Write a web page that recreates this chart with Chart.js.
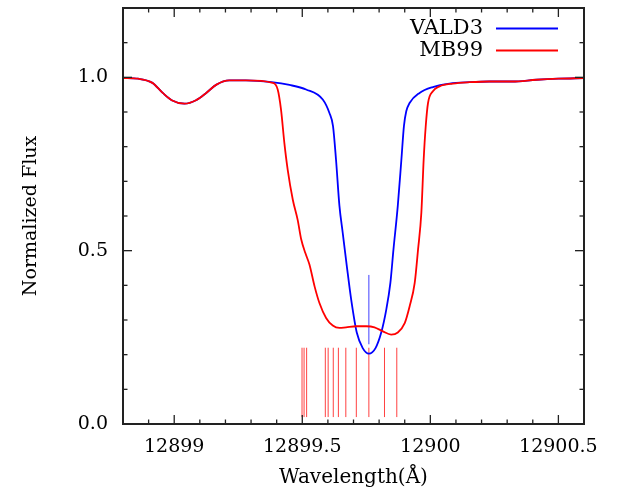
<!DOCTYPE html>
<html>
<head>
<meta charset="utf-8">
<script src="https://cdn.jsdelivr.net/npm/chart.js@4.4.1/dist/chart.umd.min.js"></script>
<style>
    html, body { margin: 0; padding: 0; background: #fff; }
    #wrap { width: 618px; height: 490px; }
</style>
</head>
<body>
<div id="wrap"><canvas id="flux-chart"></canvas></div>
<script>
// VALD3 synthetic profile (wavelength in Å, normalized flux)
const wavelengthVald = [12898.80, 12898.86, 12898.915, 12898.955, 12898.99, 12899.04, 12899.085, 12899.125, 12899.165, 12899.215,
    12899.28, 12899.38, 12899.45, 12899.515, 12899.58, 12899.606, 12899.62, 12899.632, 12899.645, 12899.658,
    12899.674, 12899.691, 12899.713, 12899.736, 12899.76, 12899.786, 12899.808, 12899.828, 12899.844, 12899.856,
    12899.873, 12899.887, 12899.897, 12899.906, 12899.919, 12899.958, 12900.01, 12900.075, 12900.154, 12900.23,
    12900.32, 12900.415, 12900.5, 12900.6];
const fluxVald = [0.998, 0.996, 0.984, 0.955, 0.934, 0.924, 0.934, 0.955, 0.979, 0.991,
    0.991, 0.986, 0.978, 0.965, 0.936, 0.897, 0.859, 0.76, 0.63, 0.551,
    0.455, 0.359, 0.263, 0.219, 0.203, 0.219, 0.263, 0.33, 0.407, 0.503,
    0.63, 0.763, 0.86, 0.902, 0.926, 0.955, 0.972, 0.982, 0.986, 0.988,
    0.988, 0.993, 0.996, 0.998];

// MB99 synthetic profile
const wavelengthMb = [12898.80, 12898.86, 12898.915, 12898.955, 12898.99, 12899.04, 12899.085, 12899.125, 12899.165, 12899.215,
    12899.28, 12899.384, 12899.404, 12899.417, 12899.43, 12899.443, 12899.463, 12899.482, 12899.496, 12899.512,
    12899.528, 12899.548, 12899.567, 12899.593, 12899.619, 12899.645, 12899.671, 12899.711, 12899.75, 12899.782,
    12899.815, 12899.847, 12899.873, 12899.90, 12899.919, 12899.939, 12899.952, 12899.965, 12899.974, 12899.982,
    12899.991, 12900.01, 12900.036, 12900.088, 12900.154, 12900.23, 12900.32, 12900.415, 12900.5, 12900.6];
const fluxMb = [0.998, 0.996, 0.984, 0.955, 0.934, 0.924, 0.934, 0.955, 0.979, 0.991,
    0.991, 0.984, 0.965, 0.907, 0.811, 0.734, 0.647, 0.589, 0.532, 0.493,
    0.46, 0.397, 0.349, 0.306, 0.284, 0.277, 0.279, 0.282, 0.282, 0.279,
    0.267, 0.258, 0.264, 0.291, 0.339, 0.407, 0.503, 0.61, 0.763, 0.859,
    0.926, 0.96, 0.974, 0.982, 0.986, 0.988, 0.988, 0.993, 0.996, 0.998];

// line positions of each list, drawn as short vertical markers
const mbLineCenters = [12899.499, 12899.507, 12899.517, 12899.590, 12899.601, 12899.621,
    12899.641, 12899.670, 12899.711, 12899.760, 12899.821, 12899.869];
const mbLineSpan = [0.02, 0.22];
const valdLineCenters = [12899.76];
const valdLineSpan = [0.23, 0.43];

const xTickLabels = ['12899', '12899.5', '12900', '12900.5'];
const yTickLabels = ['0.0', '0.5', '1.0'];

const toPoints = (xs, ys) => xs.map((x, i) => ({ x, y: ys[i] }));
const pickLabel = (labels, value) => labels.find((l) => Math.abs(Number(l) - value) < 1e-6) || '';

// ticks every 0.1 between the axis limits, built from integer tenths so the values stay exact
function tenthTicks(scale) {
    const ticks = [];
    for (let k = Math.round(scale.min * 10); k <= Math.round(scale.max * 10); k++) ticks.push({ value: k / 10 });
    scale.ticks = ticks;
}

function markerDatasets(centers, span, color) {
    return centers.map((c) => ({
        data: [{ x: c, y: span[0] }, { x: c, y: span[1] }],
        borderColor: color,
        borderWidth: 1,
        pointRadius: 0,
        showLine: true,
        order: 3
    }));
}

/**
 * Frame, inward ticks on all four sides and a gnuplot-style legend.
 */
const frameAndLegend = {
    id: 'frameAndLegend',
    afterDraw(chart) {
        const { ctx, chartArea: a, scales: { x, y } } = chart;
        ctx.save();
        ctx.strokeStyle = '#222';
        ctx.lineWidth = 1.3;
        const seg = (x1, y1, x2, y2) => { ctx.beginPath(); ctx.moveTo(x1, y1); ctx.lineTo(x2, y2); ctx.stroke(); };

        x.ticks.forEach((t) => {
            const px = x.getPixelForValue(t.value);
            if (px <= a.left + 1 || px >= a.right - 1) return;
            const len = pickLabel(xTickLabels, t.value) ? 9 : 4.5;
            seg(px, a.bottom, px, a.bottom - len);
            seg(px, a.top, px, a.top + len);
        });
        y.ticks.forEach((t) => {
            const py = y.getPixelForValue(t.value);
            if (py <= a.top + 1 || py >= a.bottom - 1) return;
            const len = pickLabel(yTickLabels, t.value) ? 9 : 4.5;
            seg(a.left, py, a.left + len, py);
            seg(a.right, py, a.right - len, py);
        });

        ctx.lineWidth = 2;
        ctx.strokeRect(a.left, a.top, a.right - a.left, a.bottom - a.top);

        ctx.font = '21px "DejaVu Serif"';
        ctx.textAlign = 'right';
        ctx.textBaseline = 'middle';
        ctx.fillStyle = '#000';
        chart.data.datasets.filter((d) => d.label).forEach((d, i) => {
            const yMid = a.top + 20.5 + i * 22;
            ctx.fillText(d.label, a.right - 101, yMid);
            ctx.strokeStyle = d.borderColor;
            ctx.lineWidth = 1.8;
            seg(a.right - 88, yMid, a.right - 26, yMid);
        });
        ctx.restore();
    }
};

const serif = '"DejaVu Serif", serif';

new Chart(document.getElementById('flux-chart'), {
    type: 'scatter',
    data: {
        datasets: [
            { label: 'VALD3', data: toPoints(wavelengthVald, fluxVald), borderColor: '#0000ff', borderWidth: 1.8, pointRadius: 0, showLine: true, cubicInterpolationMode: 'monotone', order: 2 },
            { label: 'MB99', data: toPoints(wavelengthMb, fluxMb), borderColor: '#ff0000', borderWidth: 1.8, pointRadius: 0, showLine: true, cubicInterpolationMode: 'monotone', order: 1 },
            ...markerDatasets(mbLineCenters, mbLineSpan, 'rgba(255, 0, 0, 0.75)'),
            ...markerDatasets(valdLineCenters, valdLineSpan, 'rgba(0, 0, 255, 0.75)')
        ]
    },
    options: {
        responsive: true,
        maintainAspectRatio: false,
        animation: false,
        devicePixelRatio: 1,
        layout: { padding: { left: 0, right: 34, top: 8, bottom: 0 } },
        plugins: { legend: { display: false }, tooltip: { enabled: false } },
        scales: {
            x: {
                type: 'linear',
                min: 12898.8,
                max: 12900.6,
                afterBuildTicks: tenthTicks,
                afterFit: (s) => { s.height = 66; s.paddingLeft = 0; s.paddingRight = 0; },
                grid: { display: false, drawTicks: false },
                border: { display: false },
                ticks: {
                    autoSkip: false,
                    maxRotation: 0,
                    padding: 12,
                    color: '#000',
                    font: { family: serif, size: 19 },
                    callback: (v) => pickLabel(xTickLabels, v)
                },
                title: { display: true, text: 'Wavelength(Å)', color: '#000', font: { family: serif, size: 20 }, padding: { top: 0, bottom: 0 } }
            },
            y: {
                min: 0,
                max: 1.2,
                afterBuildTicks: tenthTicks,
                afterFit: (s) => { s.width = 123; s.paddingTop = 0; s.paddingBottom = 0; },
                grid: { display: false, drawTicks: false },
                border: { display: false },
                ticks: {
                    autoSkip: false,
                    padding: 15,
                    color: '#000',
                    font: { family: serif, size: 19 },
                    callback: (v) => pickLabel(yTickLabels, v)
                },
                title: { display: true, text: 'Normalized Flux', color: '#000', font: { family: serif, size: 19 }, padding: { top: 20, bottom: 0 } }
            }
        }
    },
    plugins: [frameAndLegend]
});
</script>
</body>
</html>
